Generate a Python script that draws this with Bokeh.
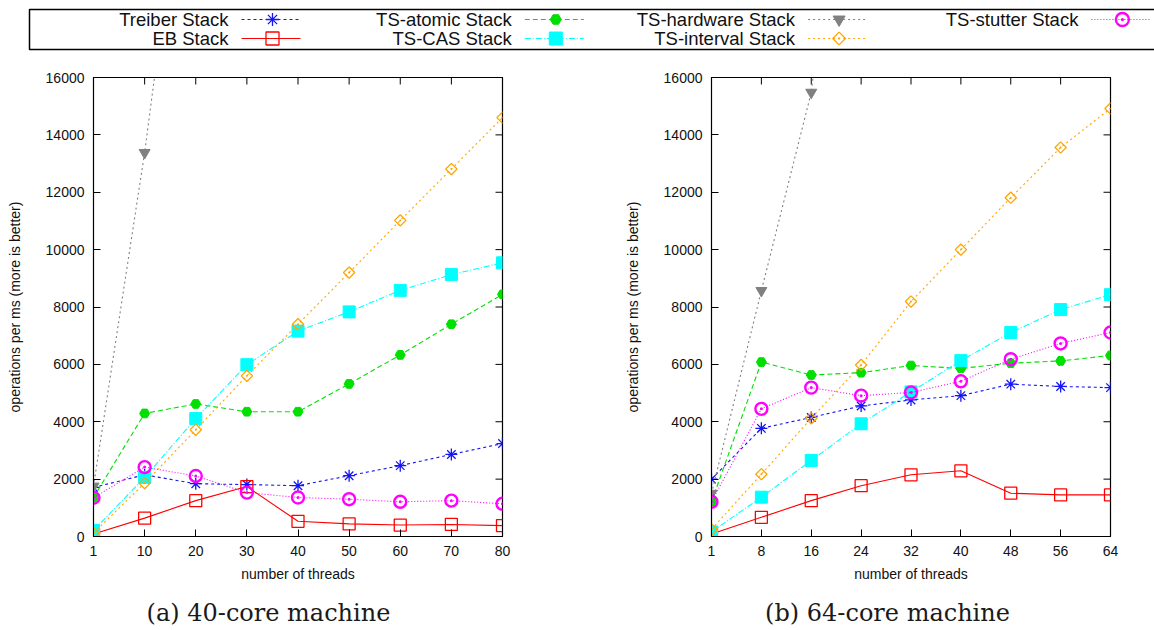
import math
from bokeh.plotting import figure
from bokeh.models import Range1d, FixedTicker, LinearAxis
from bokeh.layouts import column, row
from bokeh.embed import file_html
from bokeh.resources import INLINE
from bokeh.core.properties import value

# ---------------- data ----------------
threads_a = [1, 10, 20, 30, 40, 50, 60, 70, 80]
threads_b = [1, 8, 16, 24, 32, 40, 48, 56, 64]
y_ticks = [0, 2000, 4000, 6000, 8000, 10000, 12000, 14000, 16000]

treiber_a = [1710, 2150, 1840, 1810, 1770, 2120, 2470, 2860, 3240]
eb_a = [90, 640, 1250, 1740, 530, 440, 400, 420, 380]
atomic_a = [1360, 4290, 4620, 4350, 4350, 5320, 6330, 7400, 8440]
cas_a = [210, 2060, 4110, 5990, 7160, 7830, 8580, 9130, 9540]
hardware_a = [1750, 13380, 27000]
interval_a = [120, 1860, 3720, 5600, 7400, 9200, 11020, 12810, 14600]
stutter_a = [1350, 2420, 2110, 1530, 1360, 1300, 1210, 1250, 1140]

treiber_b = [2000, 3770, 4150, 4550, 4760, 4910, 5310, 5230, 5190]
eb_b = [90, 670, 1250, 1770, 2150, 2290, 1510, 1450, 1450]
atomic_b = [1210, 6080, 5630, 5710, 5960, 5860, 6040, 6120, 6310]
cas_b = [160, 1370, 2650, 3930, 5040, 6130, 7110, 7910, 8430]
hardware_b = [1500, 8570, 15480, 30000]
interval_b = [250, 2170, 4120, 5980, 8190, 10000, 11810, 13560, 14920]
stutter_b = [1210, 4450, 5190, 4910, 5020, 5410, 6180, 6730, 7110]

series = ["Treiber Stack", "EB Stack", "TS-atomic Stack", "TS-CAS Stack",
          "TS-hardware Stack", "TS-interval Stack", "TS-stutter Stack"]
data_a = [treiber_a, eb_a, atomic_a, cas_a, hardware_a, interval_a, stutter_a]
data_b = [treiber_b, eb_b, atomic_b, cas_b, hardware_b, interval_b, stutter_b]

captions = ["(a) 40-core machine", "(b) 64-core machine"]

SANS = "Liberation Sans"
SERIF = "DejaVu Serif"

styles = {
    "Treiber Stack": dict(color="#1515f5", dash="3 3", marker="asterisk", size=12, fill=None, mlw=1.3, angle=0),
    "EB Stack": dict(color="#ff0000", dash="solid", marker="square", size=12, fill=None, mlw=1.3, angle=0),
    "TS-atomic Stack": dict(color="#00e000", dash="5 3", marker="hex", size=10, fill="#00e000", mlw=1, angle=0),
    "TS-CAS Stack": dict(color="#00ffff", dash="6 2 1 2", marker="square", size=12, fill="#00ffff", mlw=1, angle=0),
    "TS-hardware Stack": dict(color="#808080", dash="2 3", marker="inverted_triangle", size=11, fill="#808080", mlw=1, angle=0),
    "TS-interval Stack": dict(color="#ffa500", dash="2 3", marker="square_dot", size=8, fill=None, mlw=1.3, angle=math.pi / 4),
    "TS-stutter Stack": dict(color="#ff00ff", dash="1 2", marker="circle_dot", size=12, fill=None, mlw=2.4, angle=0),
}


def xpos(threads):
    # the "1 thread" point sits at the origin of the axis
    return [0 if t == 1 else t for t in threads]


def style_axis(ax):
    ax.major_tick_in = 7
    ax.major_tick_out = 0
    ax.minor_tick_line_color = None
    ax.axis_line_color = "black"
    ax.major_tick_line_color = "black"
    ax.major_label_text_font = SANS
    ax.major_label_text_font_size = "14px"
    ax.major_label_text_color = "#111111"
    ax.axis_label_text_font = SANS
    ax.axis_label_text_font_size = "14px"
    ax.axis_label_text_font_style = "normal"
    ax.axis_label_text_color = "#111111"


def make_plot(threads, data, border_left, border_right):
    xs = xpos(threads)
    p = figure(width=577, height=542, output_backend="svg", toolbar_location=None,
               x_range=Range1d(0, xs[-1]), y_range=Range1d(0, 16000),
               min_border_left=border_left, min_border_right=border_right,
               min_border_top=25, min_border_bottom=58,
               x_axis_location=None, y_axis_location=None,
               outline_line_color="black", outline_line_width=1.2,
               background_fill_color="white", border_fill_color="white")
    p.grid.visible = False

    xax = LinearAxis(ticker=FixedTicker(ticks=xs),
                     major_label_overrides={x: str(t) for x, t in zip(xs, threads)})
    style_axis(xax)
    xax.major_label_standoff = 9
    xax.axis_label = "number of threads"
    xax.axis_label_standoff = 7
    p.add_layout(xax, "below")

    yax = LinearAxis(ticker=FixedTicker(ticks=y_ticks))
    style_axis(yax)
    yax.major_label_standoff = 9
    yax.axis_label = "operations per ms (more is better)"
    yax.axis_label_standoff = 20
    p.add_layout(yax, "left")

    # mirrored inward ticks on the right and top edges (clipped to the frame)
    p.scatter([xs[-1]] * len(y_ticks), y_ticks, marker="dash", size=14,
              line_color="black", line_width=1)
    p.scatter(xs, [y_ticks[-1]] * len(xs), marker="dash", size=14, angle=math.pi / 2,
              line_color="black", line_width=1)

    for name, ys in zip(series, data):
        st = styles[name]
        x = xs[:len(ys)]
        p.line(x, ys, line_color=st["color"], line_dash=st["dash"], line_width=1.1)
        p.scatter(x, ys, marker=st["marker"], size=st["size"], line_color=st["color"],
                  fill_color=st["fill"], line_width=st["mlw"], angle=st["angle"])
    return p


pa = make_plot(threads_a, data_a, 93, 75)
pb = make_plot(threads_b, data_b, 134, 44)

# ---------------- legend strip ----------------
leg = figure(width=1154, height=52, output_backend="svg", toolbar_location=None,
             x_range=Range1d(0, 1154), y_range=Range1d(52, 0),
             min_border=0, x_axis_location=None, y_axis_location=None,
             outline_line_color=None)
leg.grid.visible = False
leg.quad(left=[29], right=[1180], top=[9], bottom=[49], fill_color=None,
         line_color="black", line_width=1.5)
for i, name in enumerate(series):
    st = styles[name]
    col, r = divmod(i, 2)
    te = 228 + col * 283.3
    ry = 19 if r == 0 else 38
    leg.text(x=[te], y=[ry], text=[name], text_align="right", text_baseline="middle",
             text_font=value(SANS), text_font_size="18.5px", text_color="#111111")
    leg.line([te + 13, te + 72], [ry, ry], line_color=st["color"], line_dash=st["dash"], line_width=1.1)
    leg.scatter([te + 44], [ry], marker=st["marker"], size=st["size"] + 1, line_color=st["color"],
                fill_color=st["fill"], line_width=st["mlw"], angle=st["angle"])

# ---------------- captions ----------------
cap = figure(width=1154, height=36, output_backend="svg", toolbar_location=None,
             x_range=Range1d(0, 1154), y_range=Range1d(36, 0),
             min_border=0, x_axis_location=None, y_axis_location=None,
             outline_line_color=None)
cap.grid.visible = False
cap.text(x=[268, 887], y=[18, 18], text=captions, text_align="center", text_baseline="middle",
         text_font=value(SERIF), text_font_size="24px", text_color="#1a1a1a")

layout = column(leg, row(pa, pb), cap)
open("out.html", "w").write(file_html(layout, INLINE))
